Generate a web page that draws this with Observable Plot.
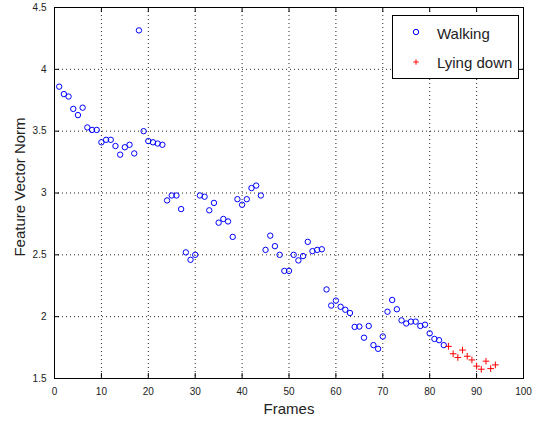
<!DOCTYPE html>
<html>
<head>
<meta charset="utf-8">
<script src="https://cdn.jsdelivr.net/npm/d3@7"></script>
<script src="https://cdn.jsdelivr.net/npm/@observablehq/plot@0.6"></script>
<style>
  html, body { margin: 0; padding: 0; background: #fff; }
  #wrap { position: relative; width: 540px; height: 431px; }
  #legend { position: absolute; left: 392px; top: 15px; width: 127px; height: 64px; box-sizing: border-box; border: 1px solid #000; background: #fff; }
</style>
</head>
<body>
<div id="wrap"><div id="legend"></div></div>
<script>
const seriesNames = ["Walking", "Lying down"];
const walkingFrames = [1,2,3,4,5,6,7,8,9,10,11,12,13,14,15,16,17,18,19,20,21,22,23,24,25,26,27,28,29,30,31,32,33,34,35,36,37,38,39,40,41,42,43,44,45,46,47,48,49,50,51,52,53,54,55,56,57,58,59,60,61,62,63,64,65,66,67,68,69,70,71,72,73,74,75,76,77,78,79,80,81,82,83];
const walkingNorm = [3.86,3.80,3.78,3.68,3.63,3.69,3.53,3.51,3.51,3.41,3.43,3.43,3.38,3.31,3.37,3.39,3.32,4.315,3.50,3.42,3.41,3.40,3.39,2.94,2.98,2.98,2.87,2.52,2.46,2.50,2.98,2.97,2.86,2.92,2.76,2.79,2.77,2.645,2.95,2.905,2.95,3.04,3.06,2.98,2.54,2.655,2.57,2.50,2.37,2.37,2.50,2.455,2.49,2.605,2.53,2.54,2.545,2.22,2.09,2.13,2.08,2.056,2.03,1.917,1.92,1.83,1.925,1.77,1.74,1.84,2.04,2.135,2.06,1.97,1.945,1.96,1.96,1.925,1.935,1.865,1.82,1.81,1.77];
const lyingFrames = [84,85,86,87,88,89,90,91,92,93,94];
const lyingNorm = [1.76,1.70,1.67,1.73,1.68,1.65,1.60,1.575,1.64,1.58,1.61];
const xTicks = [0,10,20,30,40,50,60,70,80,90,100];
const yTicks = [1.5,2,2.5,3,3.5,4,4.5];
const xLabel = "Frames";
const yLabel = "Feature Vector Norm";

const walking = walkingFrames.map((f, i) => ({frame: f, norm: walkingNorm[i]}));
const lying = lyingFrames.map((f, i) => ({frame: f, norm: lyingNorm[i]}));

const W = 540, H = 431, mL = 54, mR = 17, mT = 7, mB = 53;
const innerH = H - mT - mB, innerW = W - mL - mR, tk = 5;
const font = "'Liberation Sans', Arial, sans-serif";

const chart = Plot.plot({
  width: W, height: H,
  marginLeft: mL, marginRight: mR, marginTop: mT, marginBottom: mB,
  x: {domain: [0, 100]},
  y: {domain: [1.5, 4.5]},
  style: {fontFamily: font, fontSize: "10px", color: "#000", background: "#fff"},
  marks: [
    Plot.gridX(xTicks.slice(1, -1), {stroke: "#000", strokeOpacity: 0.85, strokeDasharray: "1,3"}),
    Plot.gridY(yTicks.slice(1, -1), {stroke: "#000", strokeOpacity: 0.85, strokeDasharray: "1,3"}),
    Plot.frame({stroke: "#000"}),
    Plot.tickX(xTicks, {x: d => d, insetTop: innerH - tk, stroke: "#000"}),
    Plot.tickX(xTicks, {x: d => d, insetBottom: innerH - tk, stroke: "#000"}),
    Plot.tickY(yTicks, {y: d => d, insetRight: innerW - tk, stroke: "#000"}),
    Plot.tickY(yTicks, {y: d => d, insetLeft: innerW - tk, stroke: "#000"}),
    Plot.axisX(xTicks, {tickSize: 0, tickPadding: 9, label: null, fill: "#222", tickFormat: d => String(d)}),
    Plot.axisY(yTicks, {tickSize: 0, tickPadding: 8, label: null, fill: "#222", tickFormat: d => String(d)}),
    Plot.dot(walking, {x: "frame", y: "norm", r: 2.7, stroke: "#0000ff", fill: "none", strokeWidth: 1}),
    Plot.dot(lying, {x: "frame", y: "norm", symbol: "plus", r: 2.3, stroke: "#ff0000", strokeWidth: 1}),
    Plot.text([xLabel], {text: d => d, frameAnchor: "bottom", dy: 35, fontSize: 15, fill: "#222"}),
    Plot.text([yLabel], {text: d => d, frameAnchor: "left", textAnchor: "middle", lineAnchor: "middle", dx: -34, dy: -6, rotate: -90, fontSize: 15, fill: "#222"})
  ]
});
document.getElementById("wrap").prepend(chart);

// legend
const lg = d3.select("#legend").append("svg").attr("width", 125).attr("height", 62)
  .style("font-family", font);
lg.append("circle").attr("cx", 23).attr("cy", 16).attr("r", 2.7)
  .attr("fill", "none").attr("stroke", "#0000ff");
lg.append("path").attr("d", "M20.3,46H25.7M23,43.3V48.7").attr("stroke", "#ff0000").attr("fill", "none");
lg.append("text").attr("x", 44).attr("y", 19).attr("dominant-baseline", "middle")
  .attr("font-size", 15).attr("fill", "#222").text(seriesNames[0]);
lg.append("text").attr("x", 44).attr("y", 48).attr("dominant-baseline", "middle")
  .attr("font-size", 15).attr("fill", "#222").text(seriesNames[1]);
</script>
</body>
</html>
